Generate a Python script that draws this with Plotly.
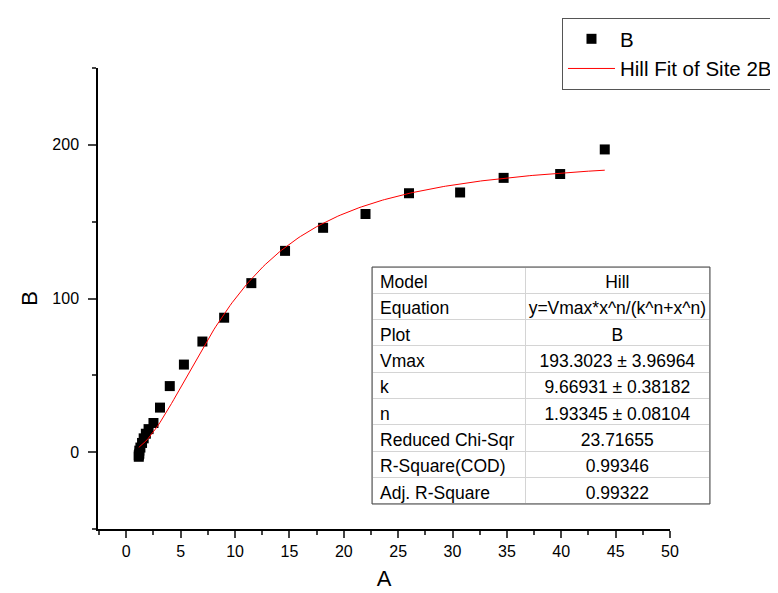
import plotly.graph_objects as go

# ---- data ----
x_data = [1.15, 1.15, 1.2, 1.2, 1.3, 1.45, 1.6, 1.8, 2.05, 2.5, 3.1, 4.0, 5.3,
          7.0, 9.0, 11.5, 14.6, 18.1, 22.0, 26.0, 30.7, 34.7, 39.9, 44.0]
y_data = [-3, -2, -1, 1, 3, 6, 9, 12, 15, 19, 29, 43, 57,
          72, 87.5, 110, 131, 146, 155, 168.5, 169, 178.5, 181, 197]

# Hill fit parameters (from the table)
Vmax = 193.3023
k_par = 9.66931
n_par = 1.93345
fit_x_start = 1.15
fit_x_end = 44.0
n_fit = 200

table_labels = ["Model", "Equation", "Plot", "Vmax", "k", "n",
                "Reduced Chi-Sqr", "R-Square(COD)", "Adj. R-Square"]
table_values = ["Hill", "y=Vmax*x^n/(k^n+x^n)", "B", "193.3023 ± 3.96964",
                "9.66931 ± 0.38182", "1.93345 ± 0.08104", "23.71655",
                "0.99346", "0.99322"]

x_ticks = [0, 5, 10, 15, 20, 25, 30, 35, 40, 45, 50]
y_ticks = [0, 100, 200]

fit_x = [fit_x_start + (fit_x_end - fit_x_start) * i / (n_fit - 1) for i in range(n_fit)]
fit_y = [Vmax * xx ** n_par / (k_par ** n_par + xx ** n_par) for xx in fit_x]

FONT = "Arial, Liberation Sans, sans-serif"
NB = "\u00a0"
lab = [t.replace(" ", NB) for t in table_labels]
val = [t.replace(" ", NB) for t in table_values]

TBL_X = [0.3983, 0.8895]
TBL_Y = [0.0542, 0.5683]

fig = go.Figure()
fig.add_trace(go.Scatter(x=x_data, y=y_data, mode="markers", name="B",
                         marker=dict(symbol="square", size=10, color="black")))
fig.add_trace(go.Scatter(x=fit_x, y=fit_y, mode="lines", name="Hill Fit of Site 2B",
                         line=dict(color="red", width=1)))

fig.add_trace(go.Table(
    domain=dict(x=TBL_X, y=TBL_Y),
    columnwidth=[154, 184],
    header=dict(values=[lab[0], val[0]],
                align=["left", "center"], height=26.3,
                fill_color="white", line=dict(color="#d4d4d4", width=1),
                font=dict(family=FONT, size=17.5, color="black")),
    cells=dict(values=[lab[1:], val[1:]],
               align=["left", "center"], height=26.3,
               fill_color="white", line=dict(color="#d4d4d4", width=1),
               font=dict(family=FONT, size=17.5, color="black")),
))

fig.update_layout(
    width=778, height=593,
    margin=dict(l=90, r=0, t=60, b=72, autoexpand=False),
    paper_bgcolor="white", plot_bgcolor="white",
    font=dict(family=FONT, color="black"),
    showlegend=True,
    legend=dict(x=0.6744, y=1.1085, xanchor="left", yanchor="top",
                bordercolor="#555", borderwidth=1, bgcolor="white",
                itemwidth=47,
                font=dict(family=FONT, size=20.5, color="black")),
    shapes=[dict(type="rect", xref="paper", yref="paper",
                 x0=TBL_X[0], x1=TBL_X[1], y0=TBL_Y[0], y1=TBL_Y[1],
                 line=dict(color="#444", width=1), layer="above")],
)
fig.update_xaxes(domain=[0, 0.8314], range=[-2.6, 50], tickvals=x_ticks,
                 ticks="outside", ticklen=7, tickwidth=1.5,
                 showline=True, linecolor="black", linewidth=1.5,
                 showgrid=False, zeroline=False,
                 minor=dict(dtick=2.5, tick0=0, ticks="outside", ticklen=4, tickwidth=1.5),
                 tickfont=dict(size=16), title=dict(text="A", font=dict(size=22), standoff=12))
fig.update_yaxes(range=[-50, 250], tickvals=y_ticks, ticks="outside", ticklen=8,
                 tickwidth=1.5, showline=True, linecolor="black", linewidth=1.5,
                 showgrid=False, zeroline=False, ticklabelstandoff=6,
                 minor=dict(dtick=50, tick0=0, ticks="outside", ticklen=4, tickwidth=1.5),
                 tickfont=dict(size=16), title=dict(text="B", font=dict(size=22), standoff=9))

fig.write_html("out.html")
